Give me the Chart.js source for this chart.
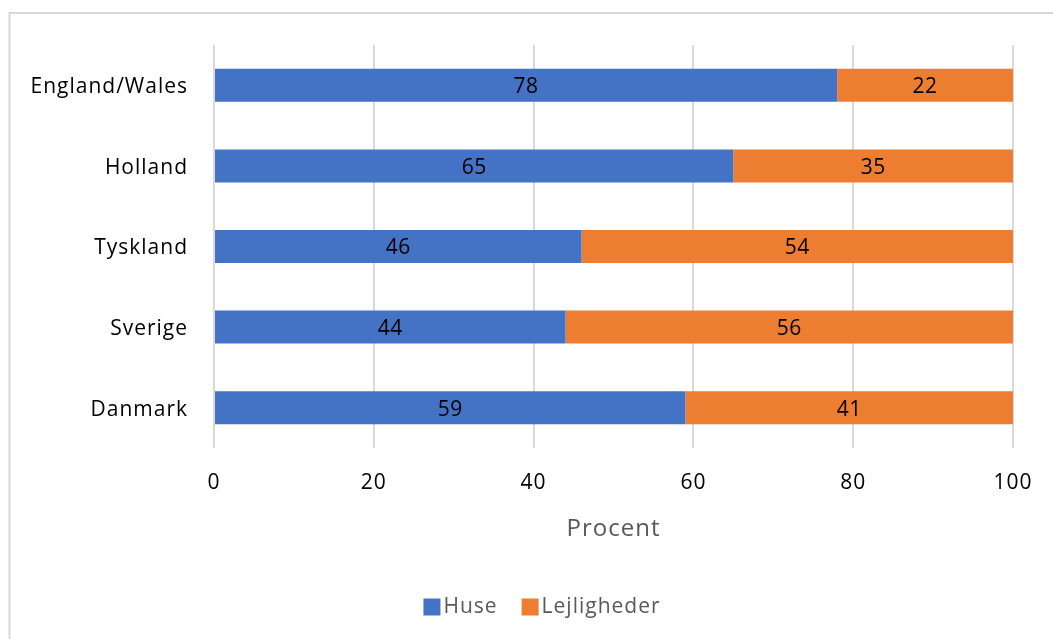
<!DOCTYPE html>
<html>
<head>
<meta charset="utf-8">
<script src="https://cdn.jsdelivr.net/npm/chart.js@4.4.1/dist/chart.umd.min.js"></script>
<style>
  html, body { margin: 0; padding: 0; background: #ffffff; overflow: hidden; }
  #wrap { position: relative; width: 1053px; height: 639px; }
  canvas { display: block; }
</style>
</head>
<body>
<div id="wrap"><canvas id="c" width="1053" height="639"></canvas></div>
<script>
const categories = ["England/Wales", "Holland", "Tyskland", "Sverige", "Danmark"];
const huse = [78, 65, 46, 44, 59];
const lejligheder = [22, 35, 54, 56, 41];
const seriesNames = ["Huse", "Lejligheder"];
const xTicks = [0, 20, 40, 60, 80, 100];
const axisTitle = "Procent";

const FONT = "'Open Sans', sans-serif";

const spacingPlugin = {
  id: 'spacing',
  beforeLayout(chart) { chart.ctx.letterSpacing = '0px'; },
  beforeDraw(chart) { chart.ctx.letterSpacing = '1px'; }
};

const borderPlugin = {
  id: 'outerBorder',
  beforeDraw(chart) {
    const ctx = chart.ctx;
    ctx.save();
    ctx.fillStyle = '#ffffff';
    ctx.fillRect(0, 0, chart.width, chart.height);
    ctx.strokeStyle = '#d9d9d9';
    ctx.lineWidth = 2;
    ctx.beginPath();
    ctx.moveTo(9.5, chart.height + 5);
    ctx.lineTo(9.5, 13);
    ctx.lineTo(chart.width + 5, 13);
    ctx.stroke();
    ctx.restore();
  }
};

const valueLabels = {
  id: 'valueLabels',
  afterDatasetsDraw(chart) {
    const ctx = chart.ctx;
    ctx.save();
    ctx.letterSpacing = '0.5px';
    ctx.font = "21px " + FONT;
    ctx.fillStyle = '#000000';
    ctx.textAlign = 'center';
    ctx.textBaseline = 'middle';
    chart.data.datasets.forEach((ds, di) => {
      const meta = chart.getDatasetMeta(di);
      meta.data.forEach((bar, i) => {
        const p = bar.getProps(['x', 'y', 'base'], true);
        const cx = (p.x + p.base) / 2;
        ctx.fillText(String(ds.data[i]), cx, p.y + 2);
      });
    });
    ctx.restore();
  }
};

const customLegend = {
  id: 'customLegend',
  afterDraw(chart) {
    const ctx = chart.ctx;
    ctx.save();
    ctx.letterSpacing = '1px';
    ctx.font = "21px " + FONT;
    ctx.textBaseline = 'middle';
    ctx.textAlign = 'left';
    const box = 17, gap = 3, itemGap = 24;
    const items = chart.data.datasets.map(ds => ({ text: ds.label, color: ds.backgroundColor }));
    let total = 0;
    items.forEach((it, i) => { total += box + gap + ctx.measureText(it.text).width + (i < items.length - 1 ? itemGap : 0); });
    let x = 542 - total / 2;
    const cy = 607;
    items.forEach(it => {
      ctx.fillStyle = it.color;
      ctx.fillRect(x, cy - box / 2, box, box);
      x += box + gap;
      ctx.fillStyle = '#595959';
      ctx.fillText(it.text, x, cy);
      x += ctx.measureText(it.text).width + itemGap;
    });
    ctx.restore();
  }
};

new Chart(document.getElementById('c'), {
  type: 'bar',
  data: {
    labels: categories,
    datasets: [
      { label: seriesNames[0], data: huse, backgroundColor: '#4472C4', borderWidth: 0, barPercentage: 0.41, categoryPercentage: 1.0 },
      { label: seriesNames[1], data: lejligheder, backgroundColor: '#ED7D31', borderWidth: 0, barPercentage: 0.41, categoryPercentage: 1.0 }
    ]
  },
  options: {
    indexAxis: 'y',
    responsive: false,
    animation: false,
    devicePixelRatio: 1,
    layout: { padding: { top: 45, right: 40, bottom: 54, left: 0 } },
    scales: {
      x: {
        stacked: true,
        min: 0,
        max: 100,
        afterBuildTicks(scale) { scale.ticks = xTicks.map(v => ({ value: v })); },
        afterFit(scale) { scale.height = 137; },
        grid: { color: '#d9d9d9', lineWidth: 2, drawTicks: false },
        border: { display: false },
        ticks: { padding: 22, color: '#000000', font: { family: FONT, size: 21 } },
        title: { display: true, text: axisTitle, color: '#595959', font: { family: FONT, size: 24 }, padding: { top: 0, bottom: 41 } }
      },
      y: {
        stacked: true,
        afterFit(scale) { scale.width = 214; },
        grid: { display: false, drawTicks: false },
        border: { display: false },
        ticks: { padding: 26, labelOffset: 2, color: '#000000', font: { family: FONT, size: 21 } }
      }
    },
    plugins: {
      legend: { display: false },
      tooltip: { enabled: false }
    }
  },
  plugins: [spacingPlugin, borderPlugin, valueLabels, customLegend]
});
</script>
</body>
</html>
